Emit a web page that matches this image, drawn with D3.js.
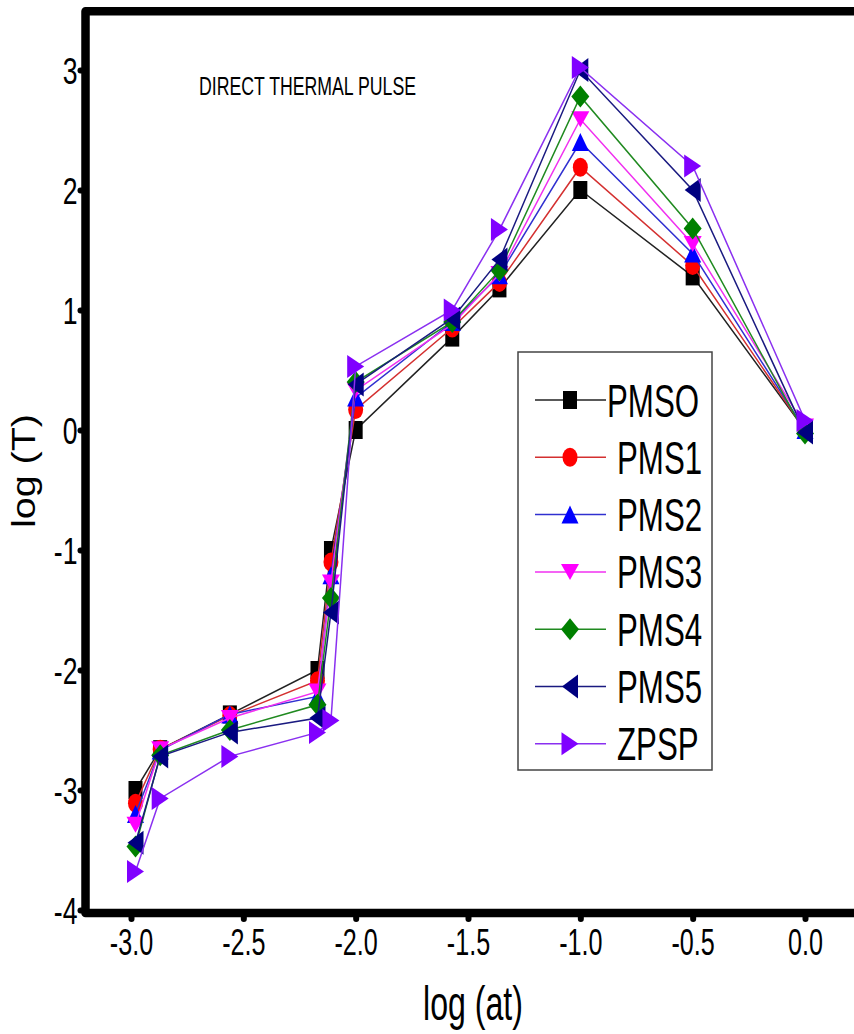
<!DOCTYPE html>
<html>
<head>
<meta charset="utf-8">
<script src="https://cdn.jsdelivr.net/npm/d3@7"></script>
<style>
  html, body { margin: 0; padding: 0; background: #fff; }
  svg { display: block; }
  text { font-family: "Liberation Sans", Arial, Helvetica, sans-serif; fill: #000; }
</style>
</head>
<body>
<svg id="chart" width="854" height="1034"></svg>
<script>
// ---- data ----
const xValues = [-2.98, -2.87, -2.56, -2.17, -2.11, -2.0, -1.57, -1.36, -1.0, -0.5, 0.0];
const seriesNames = ["PMSO", "PMS1", "PMS2", "PMS3", "PMS4", "PMS5", "ZPSP"];
const PMSO = [-3.0, -2.66, -2.37, -2.0, -1.0, 0.0, 0.77, 1.18, 2.0, 1.28, 0.0];
const PMS1 = [-3.11, -2.66, -2.38, -2.09, -1.1, 0.17, 0.85, 1.23, 2.19, 1.37, 0.0];
const PMS2 = [-3.2, -2.67, -2.37, -2.22, -1.21, 0.27, 0.9, 1.29, 2.4, 1.47, 0.0];
const PMS3 = [-3.29, -2.66, -2.4, -2.18, -1.27, 0.33, 0.88, 1.3, 2.59, 1.55, 0.03];
const PMS4 = [-3.47, -2.71, -2.5, -2.29, -1.4, 0.4, 0.9, 1.33, 2.78, 1.68, -0.03];
const PMS5 = [-3.44, -2.72, -2.52, -2.4, -1.52, 0.38, 0.93, 1.42, 3.0, 2.0, -0.02];
const ZPSP = [-3.68, -3.07, -2.72, -2.52, -2.42, 0.53, 1.0, 1.67, 3.02, 2.2, 0.08];
const seriesValues = [PMSO, PMS1, PMS2, PMS3, PMS4, PMS5, ZPSP];
const seriesColors = ["#000000", "#ff0000", "#0000ff", "#ff00ff", "#008000", "#000080", "#8000ff"];
const lineColors = ["#222222", "#d43030", "#3030d0", "#f030f0", "#208a20", "#1a1a80", "#8a30f0"];
const seriesShapes = ["square", "circle", "up", "down", "diamond", "left", "right"];
const xTicks = [-3.0, -2.5, -2.0, -1.5, -1.0, -0.5, 0.0];
const yTicks = [-4, -3, -2, -1, 0, 1, 2, 3];

// ---- scales ----
const x = d3.scaleLinear().domain([-3, 0]).range([131, 805]);
const y = d3.scaleLinear().domain([-4, 3]).range([910, 70]);

const svg = d3.select("#chart");
svg.append("rect").attr("width", 854).attr("height", 1034).attr("fill", "#fff");

// marker path (half width hw, half height hh)
function markerPath(shape) {
  switch (shape) {
    case "square": return "M-7,-9L7,-9L7,9L-7,9Z";
    case "circle": return "M-7.5,0A7.5,9.5 0 1,0 7.5,0A7.5,9.5 0 1,0 -7.5,0Z";
    case "up": return "M0,-9L8.5,9L-8.5,9Z";
    case "down": return "M-9,-8L9,-8L0,8Z";
    case "diamond": return "M0,-11L9,0L0,11L-9,0Z";
    case "left": return "M-8,0L8,-12L8,12Z";
    case "right": return "M8.5,0L-8.5,-11.5L-8.5,11.5Z";
  }
}

// ---- series ----
const line = d3.line().x(d => x(d[0])).y(d => y(d[1]));
seriesNames.forEach((name, i) => {
  const pts = xValues.map((xv, j) => [xv, seriesValues[i][j]]);
  const g = svg.append("g").attr("class", "series");
  g.append("path").attr("d", line(pts)).attr("fill", "none")
    .attr("stroke", lineColors[i]).attr("stroke-width", 1.5);
  g.selectAll("path.m").data(pts).join("path").attr("class", "m")
    .attr("d", markerPath(seriesShapes[i]))
    .attr("transform", d => `translate(${x(d[0])},${y(d[1])})`)
    .attr("fill", seriesColors[i]);
});

// ---- frame ----
const xLeft = x(-3.2025), xRight = x(0.3), yTop = y(3.49), yBot = y(-4) + 3;
svg.append("path")
  .attr("d", `M${xRight},${yTop}L${xLeft},${yTop}L${xLeft},${yBot}L${xRight},${yBot}`)
  .attr("fill", "none").attr("stroke", "#000").attr("stroke-width", 8.5)
  .attr("stroke-linejoin", "round");

// ---- axes ----
const xAxis = d3.axisBottom(x).tickValues(xTicks).tickFormat(d3.format(".1f"))
  .tickSize(6).tickSizeOuter(0);
const gx = svg.append("g").attr("transform", `translate(0,${yBot})`).call(xAxis);
gx.select(".domain").remove();
gx.selectAll(".tick line").attr("stroke", "#000").attr("stroke-width", 6).attr("stroke-linecap", "round");
gx.selectAll(".tick text")
  .attr("font-size", 37).attr("font-family", "Liberation Sans, Arial, sans-serif")
  .attr("y", 0).attr("dy", 0)
  .attr("transform", "translate(0,42) scale(0.68,1)")
  .text(d => d3.format(".1f")(d).replace("−", "-"));

const yAxis = d3.axisLeft(y).tickValues(yTicks).tickFormat(d => String(d))
  .tickSize(5).tickSizeOuter(0);
const gy = svg.append("g").attr("transform", `translate(${xLeft},0)`).call(yAxis);
gy.select(".domain").remove();
gy.selectAll(".tick line").attr("stroke", "#000").attr("stroke-width", 6).attr("stroke-linecap", "round");
gy.selectAll(".tick text")
  .attr("font-size", 37).attr("font-family", "Liberation Sans, Arial, sans-serif")
  .attr("x", 0).attr("dy", 0)
  .attr("transform", "translate(-8,13) scale(0.72,1)")
  .text(d => String(d).replace("−", "-"));

// ---- titles ----
svg.append("text").attr("x", 199).attr("y", 95).attr("font-size", 25)
  .attr("textLength", 217).attr("lengthAdjust", "spacingAndGlyphs")
  .text("DIRECT THERMAL PULSE");

svg.append("text").attr("x", 423).attr("y", 1020).attr("font-size", 48)
  .attr("textLength", 100).attr("lengthAdjust", "spacingAndGlyphs")
  .text("log (at)");

svg.append("text").attr("transform", "translate(35,528) rotate(-90)")
  .attr("x", 0).attr("y", 0).attr("font-size", 34)
  .attr("textLength", 114).attr("lengthAdjust", "spacingAndGlyphs")
  .text("log (T)");

// ---- legend ----
const legX = 518, legY = 352, legW = 194, legH = 418;
svg.append("rect").attr("x", legX).attr("y", legY).attr("width", legW).attr("height", legH)
  .attr("fill", "#fff").attr("stroke", "#444").attr("stroke-width", 1.5);
const rowY0 = 400, rowStep = 57.3;
seriesNames.forEach((name, i) => {
  const cy = rowY0 + i * rowStep;
  const g = svg.append("g");
  g.append("line").attr("x1", 535).attr("x2", 606).attr("y1", cy).attr("y2", cy)
    .attr("stroke", lineColors[i]).attr("stroke-width", 1.5);
  g.append("path").attr("d", markerPath(seriesShapes[i]))
    .attr("transform", `translate(570,${cy})`).attr("fill", seriesColors[i]);
  const tx = i === 0 ? 607 : 617;
  g.append("text").attr("font-size", 46)
    .attr("transform", `translate(${tx},${cy + 16.5}) scale(0.68,1)`)
    .text(name);
});
</script>
</body>
</html>
